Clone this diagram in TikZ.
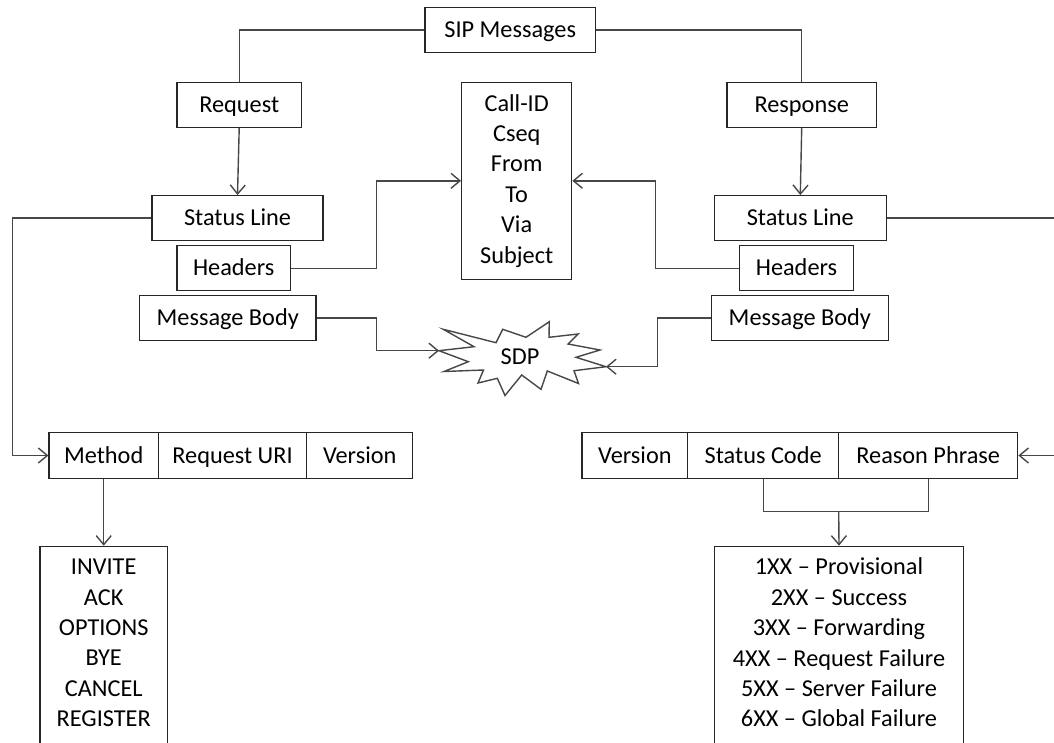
\documentclass[tikz,border=0pt]{standalone}
\usepackage{fontspec}
\setmainfont{Carlito}
\usetikzlibrary{arrows.meta}
\begin{document}
\begin{tikzpicture}[x=1pt,y=-1pt,
  box/.style={draw=black!85, line width=1.3pt, inner sep=0pt, font=\fontsize{24.3}{30}\selectfont, align=center},
  one/.style={text height=15.5pt, text depth=0pt},
  txt/.style={inner sep=0pt, font=\fontsize{24.3}{30.4}\selectfont, align=center},
  conn/.style={draw=black!72, line width=1.4pt},
  arr/.style={conn, -{Straight Barb[length=9pt,width=15pt]}},
  starline/.style={draw=black!72, line width=1.4pt, fill=white, line join=miter}
]
\useasboundingbox (0,0) rectangle (1054,742);

% top
\node[box, one, minimum width=170.3pt, minimum height=45pt] (sip) at (510.2,29.8) {SIP Messages};
\node[box, one, minimum width=124.3pt, minimum height=45pt] (request) at (239.2,104.8) {Request};
\node[box, one, minimum width=149.3pt, minimum height=45pt] (response) at (801.7,104.8) {Response};

% left message parts
\node[box, one, minimum width=171pt, minimum height=44.6pt] (statusL) at (237.5,218) {Status Line};
\node[box, one, minimum width=113.3pt, minimum height=45pt] (headersL) at (233.7,268.2) {Headers};
\node[box, one, minimum width=176.7pt, minimum height=45.4pt] (bodyL) at (227.7,318) {Message Body};

% right message parts
\node[box, one, minimum width=172pt, minimum height=44.6pt] (statusR) at (800.3,218) {Status Line};
\node[box, one, minimum width=114.4pt, minimum height=45pt] (headersR) at (796.5,268.2) {Headers};
\node[box, one, minimum width=177pt, minimum height=45.4pt] (bodyR) at (799.8,318) {Message Body};

% header list
\node[box, font=\fontsize{24.3}{30.4}\selectfont, minimum width=110pt, minimum height=197pt] (callid) at (516.7,180.8)
  {Call-ID\\Cseq\\From\\To\\Via\\Subject};

% SDP star
\draw[starline] (443.3,329.3) -- (496,342.7) -- (502.7,329.3) -- (526,337.3) -- (549.3,321.7)
  -- (549,337.3) -- (578,334) -- (568,344) -- (600,350) -- (576,357.3) -- (606,366.7)
  -- (574,370.7) -- (578.5,383.5) -- (547.3,371) -- (541,389.3) -- (521.7,375) -- (505,395.5)
  -- (497.3,378.3) -- (478,383) -- (483.5,370) -- (444,371.5) -- (468.3,361.7) -- (439,350.7)
  -- (474,346.7) -- cycle;
\node[txt, one] (sdp) at (520,356.7) {SDP};
\coordinate (sdpL) at (439,350.7);
\coordinate (sdpR) at (606,366.7);

% request line
\node[box, one, minimum width=109.3pt, minimum height=45.6pt] (method) at (103.7,455.5) {Method};
\node[box, one, minimum width=148.4pt, minimum height=45.6pt] (requri) at (232.5,455.5) {Request URI};
\node[box, one, minimum width=106pt, minimum height=45.6pt] (verL) at (359.7,455.5) {Version};

% status line
\node[box, one, minimum width=105.7pt, minimum height=45.6pt] (verR) at (634.9,455.5) {Version};
\node[box, one, minimum width=151pt, minimum height=45.6pt] (stcode) at (763.2,455.5) {Status Code};
\node[box, one, minimum width=179pt, minimum height=45.6pt] (reason) at (928.2,455.5) {Reason Phrase};

% bottom lists
\node[box, minimum width=127.3pt, minimum height=205pt, anchor=north] (methodsbox) at (103.7,545.7) {};
\node[txt] (methods) at (103.7,643) {INVITE\\ACK\\OPTIONS\\BYE\\CANCEL\\REGISTER};
\node[box, minimum width=249.4pt, minimum height=205pt, anchor=north] (codesbox) at (839,545.7) {};
\node[txt] (codes) at (839,642.5) {1XX – Provisional\\2XX – Success\\3XX – Forwarding\\4XX – Request Failure\\5XX – Server Failure\\6XX – Global Failure};

% helper coordinates
\coordinate (lrun) at (12.3,218);
\coordinate (rrun) at (1056,218);
\coordinate (hL) at (376.7,0);
\coordinate (hR) at (655.7,0);
\coordinate (bR) at (657.7,0);
\coordinate (brk) at (838.7,511.7);

% connectors
\draw[conn] (sip.west) -| (request.north);
\draw[conn] (sip.east) -| (response.north);
\draw[arr] (request.south) -- (statusL.north);
\draw[arr] (response.south) -- (statusR.north);
\draw[arr] (statusL.west) -- (lrun) |- (method.west);
\draw[arr] (statusR.east) -- (rrun) |- (reason.east);
\draw[arr] (headersL.east) -- (headersL.east -| hL) |- (callid.west);
\draw[arr] (headersR.west) -- (headersR.west -| hR) |- (callid.east);
\draw[arr] (bodyL.east) -- (bodyL.east -| hL) |- (sdpL);
\draw[arr] (bodyR.west) -- (bodyR.west -| bR) |- (sdpR);
\draw[arr] (method.south) -- (methodsbox.north);
\draw[conn] (stcode.south) |- (brk) -| (reason.south);
\draw[arr] (brk) -- (codesbox.north);
\end{tikzpicture}
\end{document}
